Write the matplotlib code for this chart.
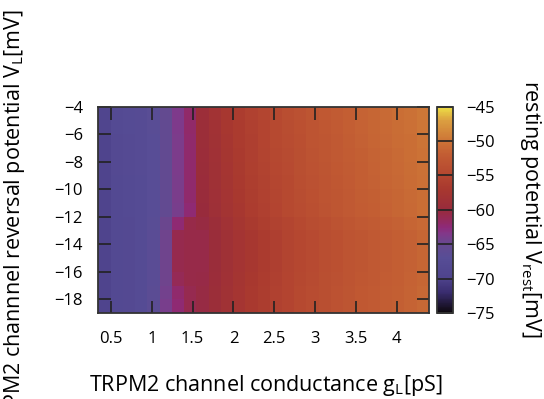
import numpy as np
import matplotlib
matplotlib.use("Agg")
import matplotlib.pyplot as plt
from matplotlib.colors import LinearSegmentedColormap

plt.rcParams['font.family'] = ['Open Sans', 'DejaVu Sans']
plt.rcParams['mathtext.default'] = 'regular'

### data
# TRPM2 conductance gL [pS] (column centres) and reversal potential VL [mV] (row centres)
g_L = [0.42, 0.57, 0.72, 0.87, 1.02, 1.17, 1.32, 1.47, 1.62, 1.77, 1.92, 2.07, 2.22, 2.37,
       2.52, 2.67, 2.82, 2.97, 3.12, 3.27, 3.42, 3.57, 3.72, 3.87, 4.02, 4.17, 4.32]
V_L = [-4.5, -5.5, -6.5, -7.5, -8.5, -9.5, -10.5, -11.5, -12.5, -13.5, -14.5, -15.5,
       -16.5, -17.5, -18.5]
# resting potential Vrest [mV], one row per V_L
V_rest = [
    [-69.4, -67.9, -67.7, -67.4, -66.7, -65.3, -63.7, -61.9, -59.2, -58.2, -57.2, -56.4, -55.7, -55.1,
     -54.5, -54.0, -53.5, -53.0, -52.6, -52.2, -51.8, -51.4, -51.1, -50.8, -50.5, -50.2, -49.8],
    [-69.4, -67.9, -67.7, -67.4, -66.7, -65.4, -63.7, -61.9, -59.3, -58.3, -57.3, -56.5, -55.8, -55.2,
     -54.6, -54.1, -53.6, -53.1, -52.7, -52.3, -51.9, -51.5, -51.2, -50.9, -50.6, -50.3, -49.9],
    [-69.5, -68.0, -67.8, -67.5, -66.8, -65.4, -63.8, -62.0, -59.4, -58.4, -57.4, -56.6, -55.9, -55.3,
     -54.7, -54.2, -53.7, -53.2, -52.8, -52.4, -52.0, -51.6, -51.3, -51.0, -50.7, -50.4, -50.0],
    [-69.5, -68.0, -67.8, -67.5, -66.8, -65.4, -63.8, -62.0, -59.5, -58.5, -57.5, -56.7, -56.0, -55.4,
     -54.8, -54.3, -53.8, -53.3, -52.9, -52.5, -52.1, -51.7, -51.4, -51.1, -50.8, -50.5, -50.1],
    [-69.5, -68.0, -67.8, -67.5, -66.8, -65.5, -63.8, -62.0, -59.6, -58.6, -57.6, -56.8, -56.1, -55.5,
     -54.9, -54.4, -53.9, -53.4, -53.0, -52.6, -52.2, -51.8, -51.5, -51.2, -50.9, -50.6, -50.2],
    [-69.6, -68.1, -67.9, -67.6, -66.9, -65.5, -63.9, -62.1, -59.7, -58.7, -57.7, -56.9, -56.2, -55.6,
     -55.0, -54.5, -54.0, -53.5, -53.1, -52.7, -52.3, -51.9, -51.6, -51.3, -51.0, -50.7, -50.3],
    [-69.6, -68.1, -67.9, -67.6, -66.9, -65.6, -63.9, -62.1, -59.8, -58.8, -57.8, -57.0, -56.3, -55.7,
     -55.1, -54.6, -54.1, -53.6, -53.2, -52.8, -52.4, -52.0, -51.7, -51.4, -51.1, -50.8, -50.4],
    [-69.6, -68.1, -67.9, -67.6, -66.9, -65.6, -64.0, -62.3, -59.9, -58.9, -57.9, -57.1, -56.4, -55.8,
     -55.2, -54.7, -54.2, -53.7, -53.3, -52.9, -52.5, -52.1, -51.8, -51.5, -51.2, -50.9, -50.5],
    [-69.6, -68.2, -68.0, -67.7, -66.7, -64.8, -62.3, -60.6, -60.3, -59.3, -58.3, -57.5, -56.8, -56.2,
     -55.6, -55.1, -54.6, -54.1, -53.7, -53.3, -52.9, -52.5, -52.2, -51.9, -51.6, -51.3, -50.9],
    [-69.6, -68.2, -68.0, -67.6, -66.6, -64.5, -60.9, -60.7, -60.6, -59.6, -58.6, -57.8, -57.1, -56.5,
     -55.9, -55.4, -54.9, -54.4, -54.0, -53.6, -53.2, -52.8, -52.5, -52.2, -51.9, -51.6, -51.2],
    [-69.6, -68.2, -68.0, -67.6, -66.6, -64.5, -60.9, -60.7, -60.6, -59.6, -58.6, -57.8, -57.1, -56.5,
     -55.9, -55.4, -54.9, -54.4, -54.0, -53.6, -53.2, -52.8, -52.5, -52.2, -51.9, -51.6, -51.2],
    [-69.6, -68.2, -68.0, -67.6, -66.6, -64.5, -60.9, -60.7, -60.6, -59.6, -58.6, -57.8, -57.1, -56.5,
     -55.9, -55.4, -54.9, -54.4, -54.0, -53.6, -53.2, -52.8, -52.5, -52.2, -51.9, -51.6, -51.2],
    [-69.6, -68.2, -68.0, -67.6, -66.6, -64.5, -61.2, -60.7, -60.5, -59.5, -58.5, -57.7, -57.0, -56.4,
     -55.8, -55.3, -54.8, -54.3, -53.9, -53.5, -53.1, -52.7, -52.4, -52.1, -51.8, -51.5, -51.1],
    [-69.7, -68.3, -68.0, -67.6, -66.5, -64.3, -62.0, -61.0, -60.4, -59.4, -58.4, -57.6, -56.9, -56.3,
     -55.7, -55.2, -54.7, -54.2, -53.8, -53.4, -53.0, -52.6, -52.3, -52.0, -51.7, -51.4, -51.0],
    [-69.7, -68.3, -68.0, -67.6, -66.5, -64.0, -62.3, -61.0, -60.4, -59.4, -58.4, -57.6, -56.9, -56.3,
     -55.7, -55.2, -54.7, -54.2, -53.8, -53.4, -53.0, -52.6, -52.3, -52.0, -51.7, -51.4, -51.0],
]
x_ticks = [0.5, 1, 1.5, 2, 2.5, 3, 3.5, 4]
x_ticklabels = ['0.5', '1', '1.5', '2', '2.5', '3', '3.5', '4']
y_ticks = [-4, -6, -8, -10, -12, -14, -16, -18]
cb_ticks = [-75, -70, -65, -60, -55, -50, -45]

### palette (gnuplot-like black-blue-magenta-red-orange-yellow)
anchors = [(-75, '#0d080d'), (-72, '#3a2d70'), (-70, '#4e438c'), (-67, '#574d96'),
           (-65, '#66498f'), (-63.5, '#82388a'), (-62.5, '#8e2a78'), (-61, '#962a50'),
           (-60, '#982b3c'), (-57, '#a8382f'), (-55, '#b44630'), (-52, '#c25c33'),
           (-50, '#cc7336'), (-47, '#db9e40'), (-45, '#eddf45')]
vmin, vmax = -75, -45
cmap = LinearSegmentedColormap.from_list(
    'vrest', [((v - vmin) / (vmax - vmin), c) for v, c in anchors])

### cell edges
g = np.array(g_L)
v = np.array(V_L)
dg = g[1] - g[0]
x_edges = np.concatenate([g - dg / 2, [g[-1] + dg / 2]])
y_edges = np.concatenate([v + 0.5, [v[-1] - 0.5]])

### figure
fig = plt.figure(figsize=(5.44, 3.99), dpi=100)
ax = fig.add_axes([0.1807, 0.2155, 0.6079, 0.5171])
mesh = ax.pcolormesh(x_edges, y_edges, np.array(V_rest), cmap=cmap,
                     vmin=vmin, vmax=vmax, shading='flat')
ax.set_xlim(0.344, 4.396)
ax.set_ylim(-19, -4)
ax.set_xticks(x_ticks)
ax.set_xticklabels(x_ticklabels)
ax.set_yticks(y_ticks)
ax.tick_params(direction='in', length=9, width=1.2, color='#222222',
               top=True, right=True, labelsize=12, pad=13)
ax.tick_params(axis='y', pad=11)
for s in ax.spines.values():
    s.set_linewidth(1.3)
    s.set_color('#333333')

# colorbar
cax = fig.add_axes([0.8039, 0.2155, 0.0294, 0.5171])
cb = fig.colorbar(mesh, cax=cax, ticks=cb_ticks)
cb.outline.set_linewidth(1.3)
cb.outline.set_edgecolor('#333333')
cax.tick_params(direction='in', length=11.5, width=1.2, color='#222222',
                labelsize=12, pad=9)

# axis labels
fig.text(0.4889, 0.033, 'TRPM2 channel conductance g$_{L}$[pS]',
         ha='center', va='center', fontsize=15.5)
fig.text(0.026, 0.446, 'TRPM2 channnel reversal potential V$_{L}$[mV]',
         ha='center', va='center', rotation=90, fontsize=15.5)
fig.text(0.976, 0.476, 'resting potential V$_{rest}$[mV]',
         ha='center', va='center', rotation=270, fontsize=15.5)

fig.savefig('out.png', dpi=100)
